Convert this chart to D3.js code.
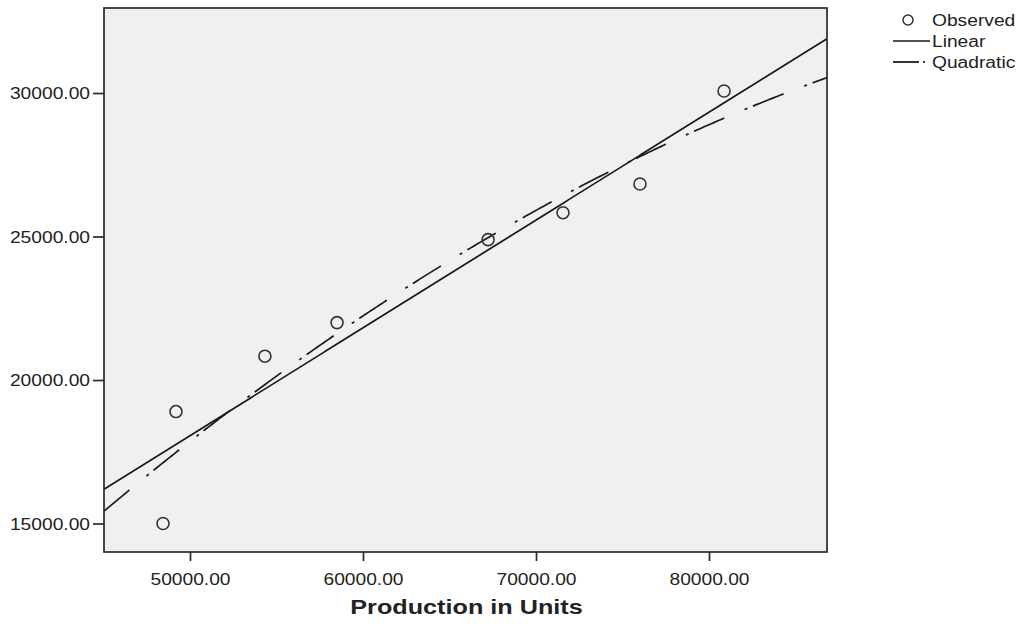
<!DOCTYPE html>
<html>
<head>
<meta charset="utf-8">
<script src="https://cdn.jsdelivr.net/npm/d3@7"></script>
<style>
  html, body { margin: 0; padding: 0; background: #ffffff; }
  svg { display: block; }
  text { font-family: "Liberation Sans", Arial, sans-serif; fill: #222; }
</style>
</head>
<body>
<svg id="chart" width="1021" height="624"></svg>
<script>
// ---- Data ----
const productionUnits = [48440, 49190, 54330, 58500, 67230, 71560, 76010, 80870];
const observedCost    = [15000, 18900, 20830, 22000, 24890, 25830, 26830, 30070];
const xTickValues = [50000, 60000, 70000, 80000];
const yTickValues = [15000, 20000, 25000, 30000];
const xAxisTitle = "Production in Units";
const legendLabels = ["Observed", "Linear", "Quadratic"];

// ---- Layout ----
const W = 1021, H = 624;
const plot = { left: 104, right: 827, top: 8, bottom: 552 };
const textStretch = 1.2;

const svg = d3.select("#chart");

const x = d3.scaleLinear().domain([45029, 86821]).range([plot.left, plot.right]);
const y = d3.scaleLinear().domain([14007, 32962]).range([plot.bottom, plot.top]);

// ---- Fits (least squares from the observed data) ----
const pts = productionUnits.map((v, i) => ({ x: v, y: observedCost[i] }));
const n = pts.length;
const mx = d3.mean(pts, d => d.x), my = d3.mean(pts, d => d.y);
const sxy = d3.sum(pts, d => (d.x - mx) * (d.y - my));
const sxx = d3.sum(pts, d => (d.x - mx) ** 2);
const b1 = sxy / sxx, b0 = my - b1 * mx;
const linear = v => b0 + b1 * v;

// quadratic with centered/scaled x
const sc = 10000;
const u = pts.map(d => (d.x - mx) / sc);
const S = k => d3.sum(u, t => t ** k);
const T = k => d3.sum(pts, (d, i) => u[i] ** k * d.y);
const A = [[n, S(1), S(2)], [S(1), S(2), S(3)], [S(2), S(3), S(4)]];
const B = [T(0), T(1), T(2)];
function solve3(A, B) {
  const M = A.map((r, i) => [...r, B[i]]);
  for (let c = 0; c < 3; c++) {
    let p = c;
    for (let r = c + 1; r < 3; r++) if (Math.abs(M[r][c]) > Math.abs(M[p][c])) p = r;
    [M[c], M[p]] = [M[p], M[c]];
    for (let r = 0; r < 3; r++) {
      if (r === c) continue;
      const f = M[r][c] / M[c][c];
      for (let k = c; k < 4; k++) M[r][k] -= f * M[c][k];
    }
  }
  return M.map((r, i) => r[3] / r[i]);
}
const q = solve3(A, B);
const quadratic = v => { const t = (v - mx) / sc; return q[0] + q[1] * t + q[2] * t * t; };

// ---- Plot background ----
svg.append("rect")
  .attr("x", plot.left).attr("y", plot.top)
  .attr("width", plot.right - plot.left).attr("height", plot.bottom - plot.top)
  .attr("fill", "#f0f0f0");

svg.append("clipPath").attr("id", "clip").append("rect")
  .attr("x", plot.left).attr("y", plot.top)
  .attr("width", plot.right - plot.left).attr("height", plot.bottom - plot.top);

const g = svg.append("g").attr("clip-path", "url(#clip)");

const xs = d3.range(0, 301).map(i => x.domain()[0] + (x.domain()[1] - x.domain()[0]) * i / 300);

g.append("path")
  .datum(xs)
  .attr("fill", "none")
  .attr("stroke", "#1a1a1a")
  .attr("stroke-width", 1.7)
  .attr("d", d3.line().x(v => x(v)).y(v => y(linear(v))));

g.append("path")
  .datum(xs)
  .attr("fill", "none")
  .attr("stroke", "#1a1a1a")
  .attr("stroke-width", 1.7)
  .attr("stroke-dasharray", "33,22,3,6")
  .attr("d", d3.line().x(v => x(v)).y(v => y(quadratic(v))));

g.selectAll("circle.obs")
  .data(pts)
  .enter().append("circle")
  .attr("class", "obs")
  .attr("cx", d => x(d.x)).attr("cy", d => y(d.y))
  .attr("r", 6)
  .attr("fill", "none")
  .attr("stroke", "#333")
  .attr("stroke-width", 1.6);

// ---- Frame ----
svg.append("rect")
  .attr("x", plot.left).attr("y", plot.top)
  .attr("width", plot.right - plot.left).attr("height", plot.bottom - plot.top)
  .attr("fill", "none").attr("stroke", "#2a2a2a").attr("stroke-width", 1.7);

// ---- Axes ----
const fmt = d3.format(".2f");
const xAxis = svg.append("g")
  .attr("transform", `translate(0,${plot.bottom})`)
  .call(d3.axisBottom(x).tickValues(xTickValues).tickFormat(fmt).tickSize(9).tickPadding(10));
const yAxis = svg.append("g")
  .attr("transform", `translate(${plot.left},0)`)
  .call(d3.axisLeft(y).tickValues(yTickValues).tickFormat(fmt).tickSize(11).tickPadding(3));

[xAxis, yAxis].forEach(ax => {
  ax.select(".domain").remove();
  ax.selectAll(".tick line").attr("stroke", "#2a2a2a").attr("stroke-width", 1.7);
  ax.selectAll(".tick text")
    .attr("font-family", "'Liberation Sans', Arial, sans-serif")
    .attr("font-size", 16).attr("fill", "#222");
});
xAxis.selectAll(".tick text").attr("dy", "0.9em");
yAxis.selectAll(".tick text").attr("dy", "0.35em");

svg.append("text")
  .attr("class", "title")
  .attr("x", (plot.left + plot.right) / 2 + 1)
  .attr("y", 614)
  .attr("text-anchor", "middle")
  .attr("font-size", 21)
  .attr("font-weight", "bold")
  .attr("fill", "#111")
  .text(xAxisTitle);

// ---- Legend ----
const legendY = [20, 41, 62];
const lg = svg.append("g");
lg.append("circle").attr("cx", 908).attr("cy", legendY[0]).attr("r", 5)
  .attr("fill", "none").attr("stroke", "#333").attr("stroke-width", 1.5);
lg.append("line").attr("x1", 893).attr("x2", 930).attr("y1", legendY[1]).attr("y2", legendY[1])
  .attr("stroke", "#1a1a1a").attr("stroke-width", 1.6);
lg.append("line").attr("x1", 893).attr("x2", 930).attr("y1", legendY[2]).attr("y2", legendY[2])
  .attr("stroke", "#333").attr("stroke-width", 1.8).attr("stroke-dasharray", "26,4,2,20");
lg.selectAll("text.leg")
  .data(legendLabels)
  .enter().append("text")
  .attr("class", "leg")
  .attr("x", 932).attr("y", (d, i) => legendY[i])
  .attr("dy", "0.35em")
  .attr("font-size", 16)
  .text(d => d);

// horizontal stretch to match the reference's wide glyphs
svg.selectAll("text").each(function () {
  const len = this.getComputedTextLength();
  d3.select(this).attr("textLength", len * textStretch).attr("lengthAdjust", "spacingAndGlyphs");
});
</script>
</body>
</html>
